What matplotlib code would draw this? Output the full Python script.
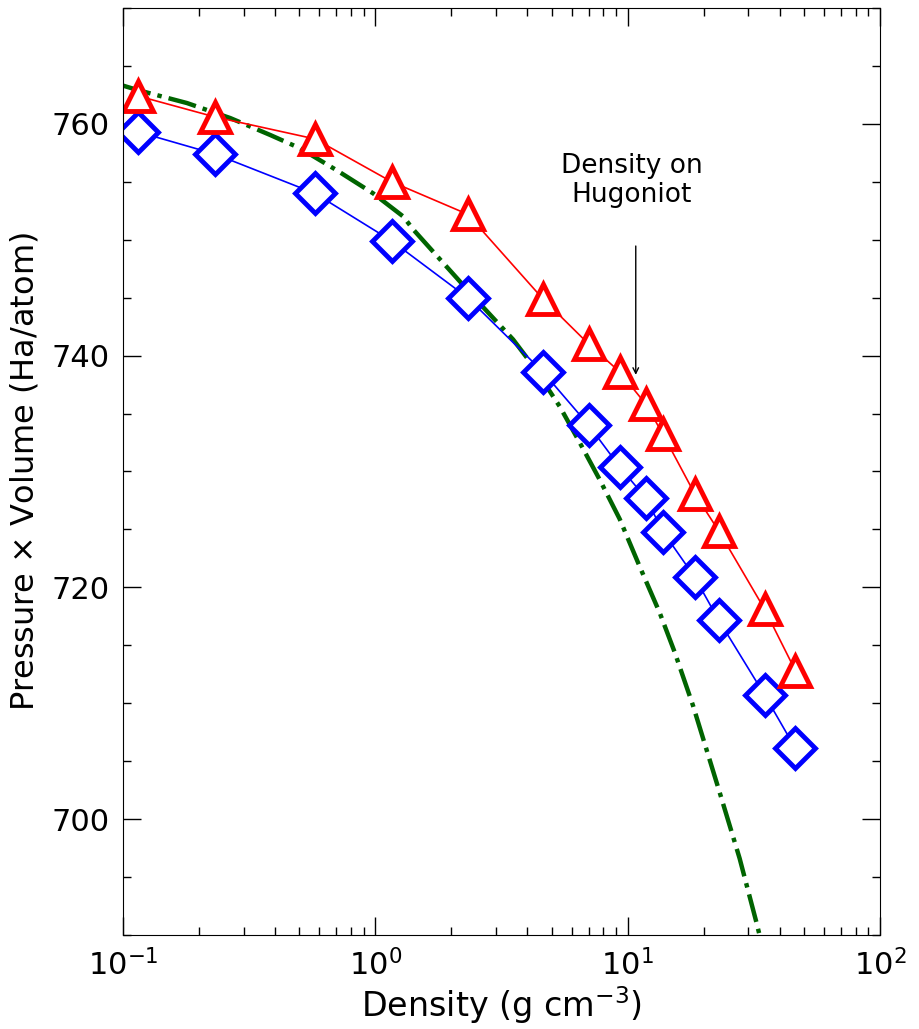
import matplotlib
matplotlib.use('Agg')
import matplotlib.pyplot as plt
from matplotlib.ticker import MultipleLocator

# blue diamonds
dens = [0.115, 0.231, 0.576, 1.16, 2.32, 4.61, 7.0, 9.29, 11.8, 13.8, 18.4, 22.9, 34.9, 46.2]
pv_blue = [759.3, 757.4, 754.0, 749.9, 745.0, 738.6, 734.0, 730.4, 727.7, 724.8, 720.9, 717.2, 710.7, 706.1]
# red triangles
pv_red = [762.4, 760.6, 758.7, 755.0, 752.2, 744.9, 741.0, 738.6, 735.8, 733.2, 728.1, 724.9, 718.1, 712.8]
# green dash-dot curve
dens_green = [0.1, 0.115, 0.179, 0.266, 0.382, 0.502, 0.702, 0.98, 1.29, 1.41, 1.91,
              2.59, 3.51, 4.22, 5.38, 6.45, 7.74, 9.29, 11.15, 13.39, 15.35, 18.14,
              23.14, 27.77, 32.35, 33.3]
pv_green = [763.3, 762.9, 761.8, 760.5, 759.05, 757.9, 756.0, 754.0, 752.0, 750.9, 747.7,
            744.5, 741.4, 739.1, 735.6, 732.5, 729.3, 725.9, 721.8, 717.8, 714.4, 709.8,
            702.3, 696.6, 691.1, 690.0]

fig = plt.figure(figsize=(9.19, 10.29), dpi=100)
ax = fig.add_axes([0.134, 0.0914, 0.8236, 0.9008])

ax.plot(dens_green, pv_green, color='#006400', ls='-.', lw=3.2)
ax.plot(dens, pv_blue, color='blue', lw=1.2, marker='D', ms=20, mfc='white',
        mec='blue', mew=3.5)
ax.plot(dens, pv_red, color='red', lw=1.2, marker='^', ms=22, mfc='white',
        mec='red', mew=3.5)

ax.annotate('', xy=(10.76, 738.1), xytext=(10.76, 749.7),
            arrowprops=dict(arrowstyle='->', color='black', lw=1))
ax.text(10.4, 755.1, 'Density on\nHugoniot', ha='center', va='center',
        fontsize=19, linespacing=1.15)

ax.set_xscale('log')
ax.set_xlim(0.1, 100)
ax.set_ylim(690, 770)
ax.yaxis.set_major_locator(MultipleLocator(20))
ax.yaxis.set_minor_locator(MultipleLocator(5))

ax.tick_params(which='both', direction='in', top=True, right=True, labelsize=22)
ax.tick_params(which='major', length=13, width=1, pad=10)
ax.tick_params(which='minor', length=6, width=1)

ax.set_xlabel(r'Density (g cm$^{-3}$)', fontsize=24, labelpad=2)
ax.set_ylabel(r'Pressure $\times$ Volume (Ha/atom)', fontsize=23, labelpad=8)

fig.savefig('out.png', dpi=100)
